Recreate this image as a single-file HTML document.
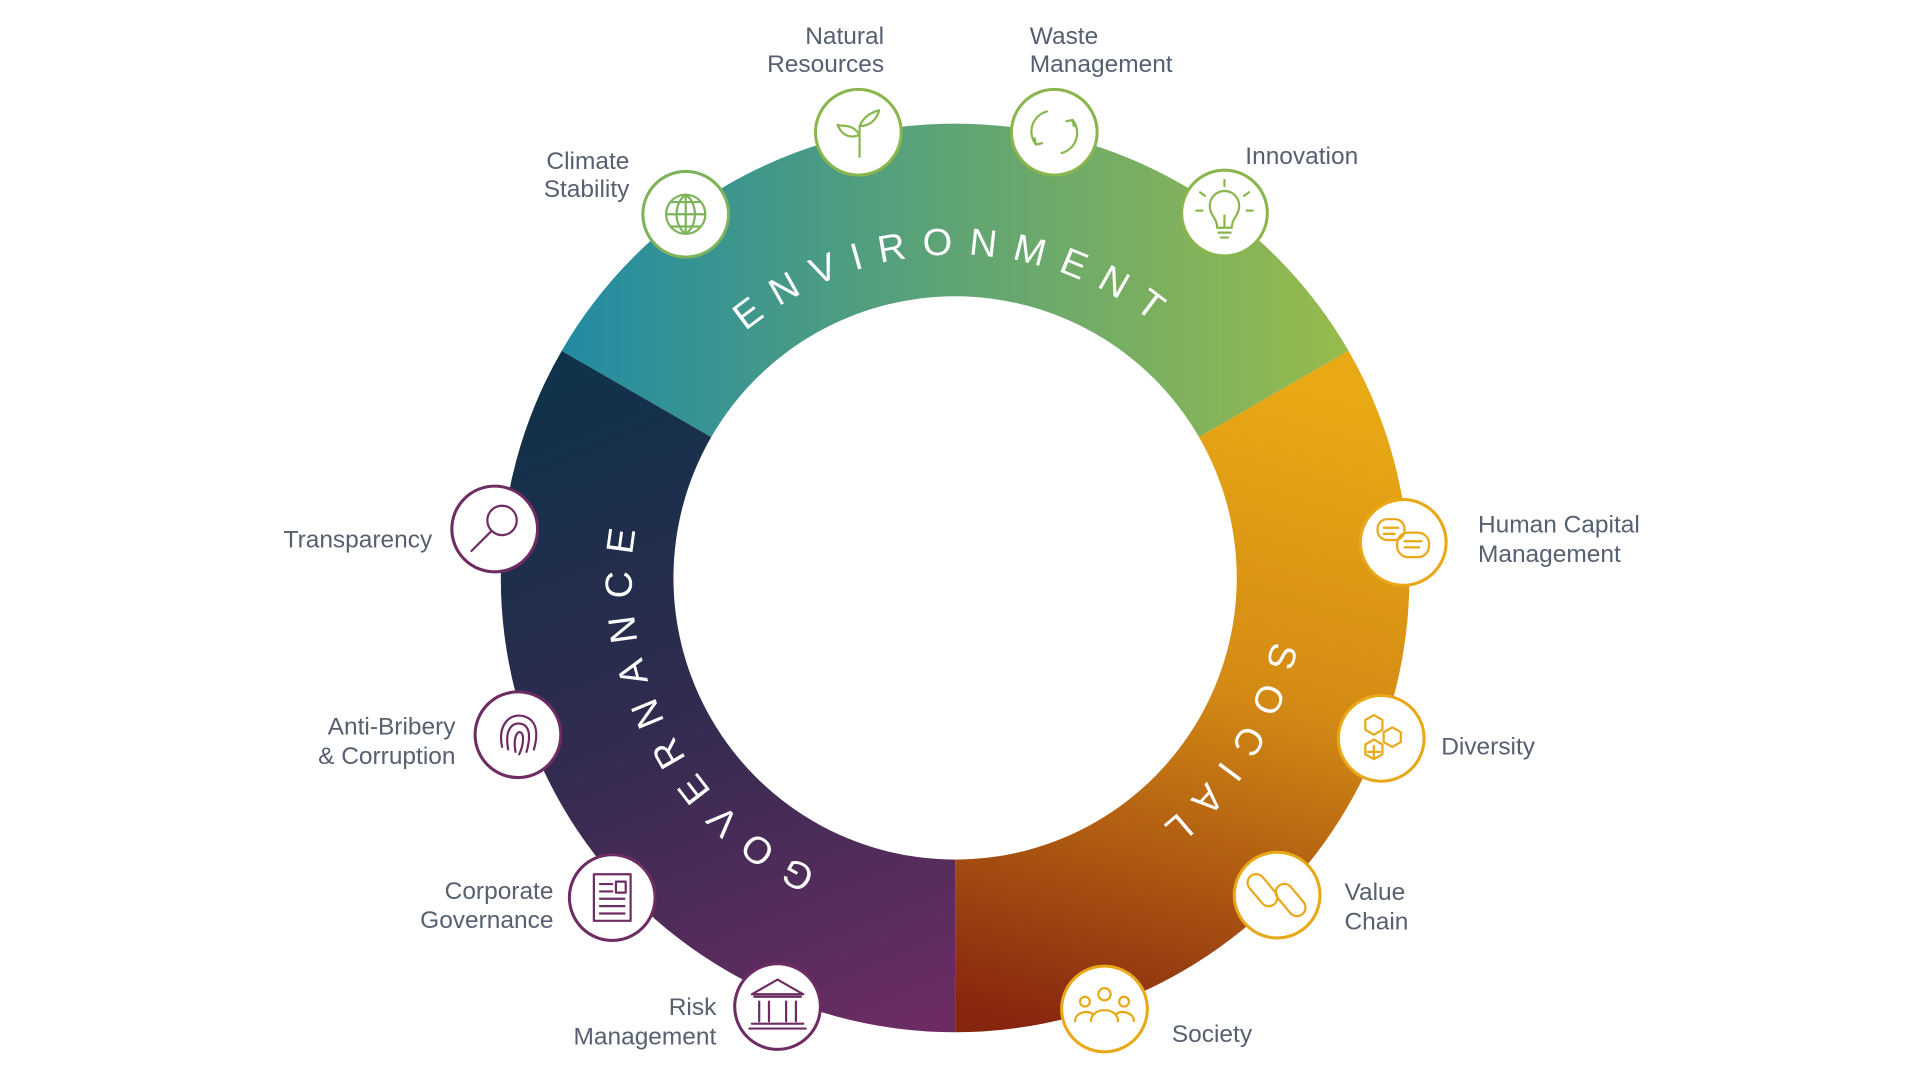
<!DOCTYPE html>
<html><head><meta charset="utf-8"><style>
html,body{margin:0;padding:0;background:#fff;overflow:hidden}
svg{display:block}
.lb{font-family:"Liberation Sans Narrow","Liberation Sans",sans-serif;font-size:20px;fill:#566070}
.rt{text-anchor:end}
.ring{font-family:"Liberation Sans",sans-serif;font-size:31px;fill:#fff;letter-spacing:13px}
.ic{fill:#fff;stroke-width:2.5}
.g path,.g circle,.g line,.g rect,.g polyline{fill:none;stroke-width:1.8;stroke-linecap:round;stroke-linejoin:round}
</style></head><body>
<svg width="1920" height="1080" viewBox="0 0 1568 882" xmlns="http://www.w3.org/2000/svg">
<defs>
<linearGradient id="ge" x1="460" y1="0" x2="1100" y2="0" gradientUnits="userSpaceOnUse">
<stop offset="0" stop-color="#228ba3"/><stop offset="0.5" stop-color="#5fa474"/><stop offset="1" stop-color="#97bb4c"/></linearGradient>
<linearGradient id="gs" x1="1000" y1="300" x2="850" y2="840" gradientUnits="userSpaceOnUse">
<stop offset="0" stop-color="#e9a915"/><stop offset="0.45" stop-color="#d38a14"/><stop offset="1" stop-color="#86260f"/></linearGradient>
<linearGradient id="gg" x1="500" y1="300" x2="720" y2="840" gradientUnits="userSpaceOnUse">
<stop offset="0" stop-color="#10324a"/><stop offset="0.45" stop-color="#2e2b4e"/><stop offset="1" stop-color="#6a2c62"/></linearGradient>
<path id="pe" d="M516,472 A264 264 0 0 1 1044,472"/>
<path id="ps" d="M919.9,248.1 A264 264 0 0 1 640.1,695.9"/>
<path id="pg" d="M898.6,707.9 A264 264 0 0 1 661.4,236.1"/>
</defs>
<path d="M458.7,286.5 A371 371 0 0 1 1101.3,286.5 L979.2,357 A230 230 0 0 0 580.8,357 Z" fill="url(#ge)"/>
<path d="M1101.3,286.5 A371 371 0 0 1 780,843 L780,702 A230 230 0 0 0 979.2,357 Z" fill="url(#gs)"/>
<path d="M780,843 A371 371 0 0 1 458.7,286.5 L580.8,357 A230 230 0 0 0 780,702 Z" fill="url(#gg)"/>
<text class="ring"><textPath href="#pe" startOffset="50%" text-anchor="middle">ENVIRONMENT</textPath></text>
<text class="ring"><textPath href="#ps" startOffset="50%" text-anchor="middle">SOCIAL</textPath></text>
<text class="ring"><textPath href="#pg" startOffset="50%" text-anchor="middle">GOVERNANCE</textPath></text>

<g stroke="#8ab64e">
<circle class="ic" cx="560" cy="175" r="35" stroke="#7db35a"/>
<g class="g" stroke="#7db35a"><circle cx="560" cy="175" r="16"/><path d="M544,175 H576 M560,159 V191 M548,165 H572 M548,185 H572"/><path d="M560,159 C550,166 550,184 560,191 C570,184 570,166 560,159"/></g>
<circle class="ic" cx="701" cy="108" r="35"/>
<g class="g"><path d="M702,128 V103 M702,110 C695,100 688,104 684,102 C688,112 696,113 702,110 M702,103 C706,94 712,92 718,90 C716,98 710,103 702,103"/></g>
<circle class="ic" cx="861" cy="108" r="35"/>
<g class="g"><path d="M855,91 A17 17 0 0 0 846,118 M867,125 A17 17 0 0 0 876,98 M846,118 l-1,-5 M846,118 l5,-1 M876,98 l1,5 M876,98 l-5,1"/></g>
<circle class="ic" cx="1000" cy="174" r="35"/>
<g class="g"><path d="M994,186 C994,178 988,176 988,168 A12 12 0 0 1 1012,168 C1012,176 1006,178 1006,186 Z M995,190 H1005 M997,194 H1003 M1000,186 V176 M984,160 l-4,-3 M1016,160 l4,-3 M982,172 h-5 M1018,172 h5 M1000,152 v-5"/></g>
</g>
<g stroke="#e8a817">
<circle class="ic" cx="1146" cy="443" r="35"/>
<g class="g"><rect x="1125" y="424" width="22" height="17" rx="8"/><rect x="1141" y="435" width="26" height="20" rx="9"/><path d="M1130,431 h12 M1130,436 h9 M1147,442 h14 M1147,447 h12"/></g>
<circle class="ic" cx="1128" cy="603" r="35"/>
<g class="g"><path d="M1115,588 l7,-4 7,4 v8 l-7,4 -7,-4 Z M1130,598 l7,-4 7,4 v8 l-7,4 -7,-4 Z M1115,608 l7,-4 7,4 v8 l-7,4 -7,-4 Z M1122,609 v10 M1117,614 h10"/></g>
<circle class="ic" cx="1043" cy="731" r="35"/>
<g class="g"><rect x="1024" y="712" width="14" height="30" rx="7" transform="rotate(-40 1031 727)"/><rect x="1047" y="720" width="14" height="30" rx="7" transform="rotate(-40 1054 735)"/></g>
<circle class="ic" cx="902" cy="824" r="35"/>
<g class="g"><circle cx="902" cy="812" r="5"/><circle cx="886" cy="818" r="4"/><circle cx="918" cy="818" r="4"/><path d="M891,834 C891,822 913,822 913,834 M878,834 C878,826 890,825 892,828 M926,834 C926,826 914,825 912,828"/></g>
</g>
<g stroke="#6e2d62">
<circle class="ic" cx="404" cy="432" r="35"/>
<g class="g"><circle cx="410" cy="425" r="12"/><path d="M401,434 L385,450"/></g>
<circle class="ic" cx="423" cy="600" r="35"/>
<g class="g"><path d="M410,610 C406,590 418,582 428,585 C438,588 440,598 436,612 M415,612 C412,596 418,590 425,591 C432,592 434,600 430,614 M421,614 C419,603 422,597 425,598 C428,599 428,608 424,616"/></g>
<circle class="ic" cx="500" cy="733" r="35"/>
<g class="g"><rect x="485" y="714" width="30" height="38"/><path d="M490,722 h10 M490,728 h10 M490,734 h20 M490,740 h20 M490,746 h20"/><rect x="503" y="720" width="8" height="9"/></g>
<circle class="ic" cx="635" cy="822" r="35"/>
<g class="g"><path d="M614,812 L635,800 L656,812 Z M616,814 h38 M620,818 v16 M628,818 v16 M642,818 v16 M650,818 v16 M614,836 h42 M612,840 h46"/></g>
</g>

<text class="lb rt" x="722" y="36">Natural</text><text class="lb rt" x="722" y="59">Resources</text>
<text class="lb" x="841" y="36">Waste</text><text class="lb" x="841" y="59">Management</text>
<text class="lb rt" x="514" y="138">Climate</text><text class="lb rt" x="514" y="161">Stability</text>
<text class="lb" x="1017" y="134">Innovation</text>
<text class="lb" x="1207" y="435">Human Capital</text><text class="lb" x="1207" y="459">Management</text>
<text class="lb" x="1177" y="616">Diversity</text>
<text class="lb" x="1098" y="735">Value</text><text class="lb" x="1098" y="759">Chain</text>
<text class="lb" x="957" y="851">Society</text>
<text class="lb rt" x="353" y="447">Transparency</text>
<text class="lb rt" x="372" y="600">Anti-Bribery</text><text class="lb rt" x="372" y="624">&amp; Corruption</text>
<text class="lb rt" x="452" y="734">Corporate</text><text class="lb rt" x="452" y="758">Governance</text>
<text class="lb rt" x="585" y="829">Risk</text><text class="lb rt" x="585" y="853">Management</text>
</svg>
</body></html>
